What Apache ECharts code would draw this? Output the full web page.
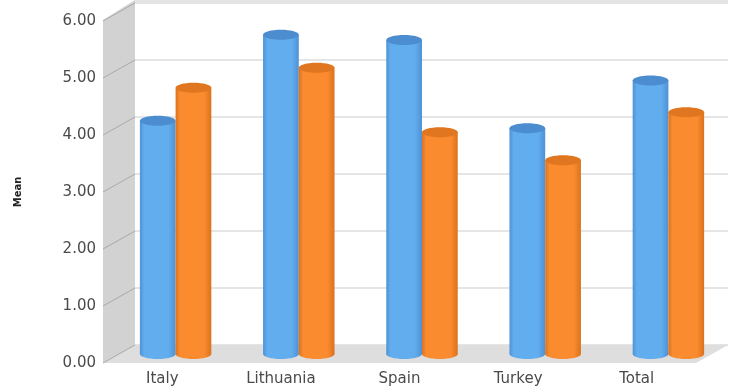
<!DOCTYPE html>
<html>
<head>
<meta charset="utf-8">
<script src="https://cdn.jsdelivr.net/npm/echarts@6/dist/echarts.min.js"></script>
<style>
  html, body { margin: 0; padding: 0; background: #ffffff; }
  #chart { width: 740px; height: 389px; }
</style>
</head>
<body>
<div id="chart"></div>
<script>
// Mean scores per country, two groups
const categories = ['Italy', 'Lithuania', 'Spain', 'Turkey', 'Total'];
const seriesBlue = [4.09, 5.60, 5.51, 3.96, 4.80];
const seriesOrange = [4.67, 5.02, 3.89, 3.40, 4.24];
const yTicks = [0, 1, 2, 3, 4, 5, 6];

// pseudo-3D depth: how far the front plane sits from the back wall
const DEPTH_X = -32;
const DEPTH_Y = 18;

const chart = echarts.init(document.getElementById('chart'), null, { renderer: 'canvas' });

// Back wall, side wall and floor of the 3D box
function renderWalls(params, api) {
  if (params.dataIndex !== 0) return;
  const cs = params.coordSys;
  const x0 = cs.x, x1 = cs.x + cs.width;
  const yBase = api.coord([0, yTicks[0]])[1];
  const yTop = api.coord([0, yTicks[yTicks.length - 1]])[1];
  const children = [];
  // floor
  children.push({
    type: 'polygon',
    shape: { points: [[x0, yBase], [x1, yBase], [x1 + DEPTH_X, yBase + DEPTH_Y], [x0 + DEPTH_X, yBase + DEPTH_Y]] },
    style: { fill: '#dedede' }
  });
  // left side wall
  children.push({
    type: 'polygon',
    shape: { points: [[x0, yTop - 3], [x0, yBase], [x0 + DEPTH_X, yBase + DEPTH_Y], [x0 + DEPTH_X, yTop + DEPTH_Y - 1]] },
    style: { fill: '#d2d2d2' }
  });
  // gridlines running across the side wall
  yTicks.forEach(function (t) {
    const y = api.coord([0, t])[1];
    children.push({
      type: 'line',
      shape: { x1: x0, y1: y, x2: x0 + DEPTH_X, y2: y + DEPTH_Y },
      style: { stroke: '#a9a9a9', lineWidth: 1 }
    });
  });
  // top rim of the back wall
  children.push({
    type: 'rect',
    shape: { x: x0, y: yTop - 3, width: cs.width, height: 3 },
    style: { fill: '#e4e4e4' }
  });
  return { type: 'group', children: children };
}

// Cylinder bars
function makeCylinder(side, body, edge, top) {
  return function (params, api) {
    const idx = api.value(0);
    const val = api.value(1);
    const c = api.coord([idx, val]);
    const b = api.coord([idx, 0]);
    const band = api.size([1, 0])[0];
    const w = band * 0.29;
    const cx = c[0] + side * w / 2;
    const topY = c[1];
    const baseY = b[1];
    const ry = 5;
    const grad = new echarts.graphic.LinearGradient(0, 0, 1, 0, [
      { offset: 0, color: edge },
      { offset: 0.12, color: body },
      { offset: 0.45, color: body },
      { offset: 0.8, color: body },
      { offset: 1, color: edge }
    ]);
    return {
      type: 'group',
      children: [
        {
          type: 'rect',
          shape: { x: cx - w / 2, y: topY, width: w, height: baseY - topY },
          style: { fill: grad }
        },
        {
          type: 'ellipse',
          shape: { cx: cx, cy: baseY, rx: w / 2, ry: ry },
          style: { fill: grad }
        },
        {
          type: 'ellipse',
          shape: { cx: cx, cy: topY, rx: w / 2, ry: ry },
          style: { fill: top }
        }
      ]
    };
  };
}

const idxData = (arr) => arr.map((v, i) => [i, v]);

const option = {
  animation: false,
  backgroundColor: '#ffffff',
  grid: [
    { left: 135, right: 12, top: 3, bottom: 44 },   // back wall
    { left: 103, right: 44, top: 21, bottom: 26 },  // front plane (labels)
    { left: 114, right: 10, top: 12, bottom: 35 }   // bar plane
  ],
  xAxis: [
    { gridIndex: 0, type: 'category', data: categories, axisLine: { show: false }, axisTick: { show: false }, axisLabel: { show: false } },
    {
      gridIndex: 1, type: 'category', data: categories,
      axisLine: { show: false }, axisTick: { show: false },
      axisLabel: { color: '#4a4a4a', fontFamily: 'DejaVu Sans', fontSize: 15, margin: 9 }
    },
    { gridIndex: 2, type: 'category', data: categories, axisLine: { show: false }, axisTick: { show: false }, axisLabel: { show: false } }
  ],
  yAxis: [
    {
      gridIndex: 0, type: 'value', min: 0, max: 6, interval: 1,
      axisLine: { show: false }, axisTick: { show: false }, axisLabel: { show: false },
      splitLine: { lineStyle: { color: '#dcdcdc', width: 1.6 } }
    },
    {
      gridIndex: 1, type: 'value', min: 0, max: 6, interval: 1,
      name: 'Mean', nameLocation: 'middle', nameGap: 80, nameRotate: 90,
      nameTextStyle: { color: '#222', fontFamily: 'DejaVu Sans', fontSize: 10, fontWeight: 'bold' },
      axisLine: { show: false }, axisTick: { show: false }, splitLine: { show: false },
      axisLabel: {
        color: '#4a4a4a', fontFamily: 'DejaVu Sans', fontSize: 15, margin: 7,
        formatter: (v) => v.toFixed(2)
      }
    },
    {
      gridIndex: 2, type: 'value', min: 0, max: 6, interval: 1,
      axisLine: { show: false }, axisTick: { show: false }, axisLabel: { show: false }, splitLine: { show: false }
    }
  ],
  series: [
    {
      type: 'custom', name: 'walls', xAxisIndex: 0, yAxisIndex: 0, z: 1,
      data: [[0, 0]], renderItem: renderWalls, silent: true
    },
    {
      type: 'custom', name: 'Group 1', xAxisIndex: 2, yAxisIndex: 2, z: 3,
      data: idxData(seriesBlue),
      renderItem: makeCylinder(-1, '#62adee', '#4d92d6', '#4b8dcf')
    },
    {
      type: 'custom', name: 'Group 2', xAxisIndex: 2, yAxisIndex: 2, z: 4,
      data: idxData(seriesOrange),
      renderItem: makeCylinder(1, '#fa8b2f', '#dc721e', '#e0761f')
    }
  ]
};

chart.setOption(option);
</script>
</body>
</html>
